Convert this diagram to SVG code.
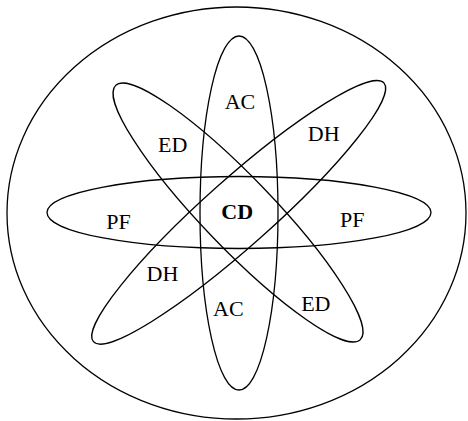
<svg xmlns="http://www.w3.org/2000/svg" width="468" height="421" viewBox="0 0 468 421">
<style>
.e{fill:none;stroke:#000;stroke-width:1.3}
.t{font-family:"Liberation Serif","Times New Roman",serif;font-size:22px;text-anchor:middle;fill:#000}
.b{font-weight:bold}
</style>
<rect width="468" height="421" fill="#fff"/>
<g id="outer"><ellipse class="e" cx="236.5" cy="213" rx="229.5" ry="206"/></g>
<g id="connectors">
<g id="AC"><ellipse class="e" cx="239" cy="213" rx="39" ry="177"/></g>
<g id="PF"><ellipse class="e" cx="239" cy="212.5" rx="192" ry="36"/></g>
<g id="ED"><ellipse class="e" cx="238" cy="212.5" rx="176.4" ry="35.3" transform="rotate(46.1 238 212.5)"/></g>
<g id="DH"><ellipse class="e" cx="238.7" cy="212.3" rx="194.5" ry="33.5" transform="rotate(-41.7 238.7 212.3)"/></g>
</g>
<g id="labels">
<text class="t" x="240" y="109">AC</text>
<text class="t" x="172.7" y="151.7">ED</text>
<text class="t" x="323.7" y="140.7">DH</text>
<text class="t" x="118.5" y="229">PF</text>
<text class="t b" x="237.2" y="219.3">CD</text>
<text class="t" x="352.2" y="226.7">PF</text>
<text class="t" x="162.5" y="281">DH</text>
<text class="t" x="228.3" y="316">AC</text>
<text class="t" x="315.8" y="310.7">ED</text>
</g>
</svg>
